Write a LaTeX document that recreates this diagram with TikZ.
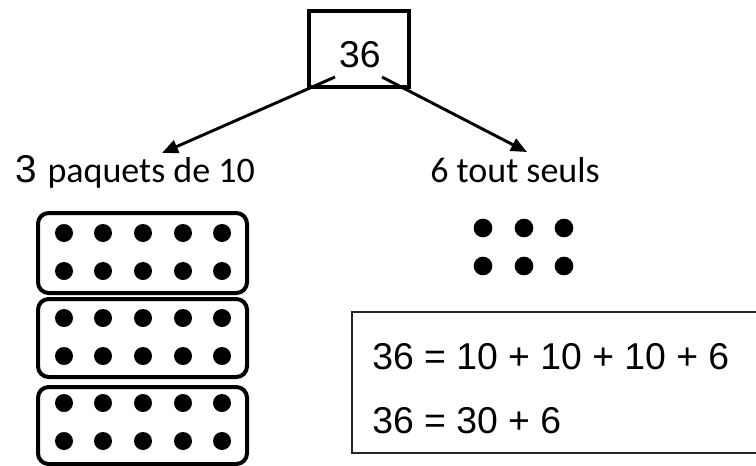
\documentclass[tikz,border=0pt]{standalone}
\usepackage{fontspec}
\setmainfont{Liberation Sans}
\newfontfamily\calibri{Carlito}
\usetikzlibrary{arrows.meta, positioning}

\begin{document}
\begin{tikzpicture}[x=0.75pt,y=-0.75pt,
  numbox/.style={draw,line width=3pt,minimum width=75pt,minimum height=56.5pt,inner sep=0pt},
  pack/.style={draw,line width=3pt,rounded corners=8pt},
  arr/.style={line width=2.2pt,-{Triangle[length=12pt,width=10pt]}},
  big/.style={font=\fontsize{28}{32}\selectfont},
  eq/.style={font=\fontsize{28}{32}\selectfont,anchor=base west,inner sep=0pt}]
\useasboundingbox (0,0) rectangle (756,465);
% === TOP: the number ===
\node[numbox] (whole) at (358.5,49) {};
\node[big,anchor=base,inner sep=0pt] (num) at (360,67) {36};
\coordinate (startL) at (335,77);
\coordinate (startR) at (382,77);
\coordinate (tipL) at (162,153);
\coordinate (tipR) at (527,152);
\draw[arr] (startL) -- (tipL);
\draw[arr] (startR) -- (tipR);
% === LABELS ===
\node[anchor=base west,inner sep=0pt] (tens) at (15,182)
  {\fontsize{29}{32}\selectfont 3 \calibri\fontsize{27}{32}\selectfont paquets de 10};
\node[anchor=base west,inner sep=0pt,font=\calibri\fontsize{27}{32}\selectfont] (ones) at (430,182) {6 tout seuls};
% === LEFT: three packs of ten ===
\draw[pack] (38,213) rectangle (247,293);
\draw[pack] (38,299) rectangle (247,377);
\draw[pack] (38,387) rectangle (247,464);
\foreach \y in {233,271,318,356,403,441} {
  \foreach \x in {64,103,143,183,222} {
    \fill (\x,\y) circle[radius=6.75pt];
  }
}
% === RIGHT: six ones ===
\foreach \y in {228,266} {
  \foreach \x in {483,524,564} {
    \fill (\x,\y) circle[radius=7pt];
  }
}
% === EQUATIONS ===
\draw[line width=0.9pt,black!85] (352,312) rectangle (756.5,453);
\node[eq] (eqa) at (372,369) {36 = 10 + 10 + 10 + 6};
\node[eq] (eqb) at (372,433) {36 = 30 + 6};
\end{tikzpicture}
\end{document}
